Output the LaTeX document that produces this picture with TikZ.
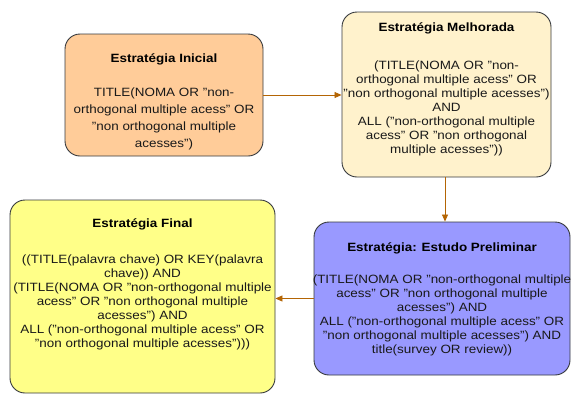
\documentclass[tikz,border=0pt]{standalone}
\usepackage{fontspec}
\setmainfont{Liberation Sans}[FakeStretch=1.12]
\usepackage{tikz}
\usetikzlibrary{arrows.meta, positioning}
\definecolor{inicial}{RGB}{255,204,153}
\definecolor{melhorada}{RGB}{255,242,204}
\definecolor{final}{RGB}{255,255,136}
\definecolor{preliminar}{RGB}{153,153,255}
\definecolor{borda}{RGB}{54,57,61}
\definecolor{seta}{RGB}{180,101,4}

\begin{document}
\begin{tikzpicture}[x=1pt, y=-1pt,
    estrategia/.style={draw=borda, line width=0.9pt, rounded corners=15pt,
        align=center, inner sep=0pt, font=\fontsize{12}{14}\selectfont,
        text=black!90},
    titulo/.style={font=\fontsize{12}{14}\selectfont\bfseries},
    fluxo/.style={draw=seta, line width=0.8pt, -{Triangle[length=7pt,width=6pt]}}]
    \useasboundingbox (0,0) rectangle (572,394);

    % caixas
    \node[estrategia, fill=inicial, minimum width=198pt, minimum height=122pt]
        (ini) at (164,95) {};
    \node[estrategia, fill=melhorada, minimum width=209pt, minimum height=165pt]
        (mel) at (446.5,94.5) {};
    \node[estrategia, fill=preliminar, minimum width=256pt, minimum height=153pt]
        (pre) at (442,298.5) {};
    \node[estrategia, fill=final, minimum width=265pt, minimum height=193pt]
        (fin) at (142.5,296.5) {};

    % titulos
    \node[titulo] (iniT) at (164,59) {Estratégia Inicial};
    \node[titulo] (melT) at (446.5,28) {Estratégia Melhorada};
    \node[titulo] (preT) at (442,248) {Estratégia: Estudo Preliminar};
    \node[titulo] (finT) at (142.5,224) {Estratégia Final};

    % textos
    \node[estrategia, draw=none, anchor=north, font=\fontsize{12}{17}\selectfont]
        (iniX) at (164,87)
        {TITLE(NOMA OR "non-\\orthogonal multiple acess" OR\\"non orthogonal multiple\\acesses")};
    \node[estrategia, draw=none, anchor=north] (melX) at (446.5,60)
        {(TITLE(NOMA OR "non-\\orthogonal multiple acess" OR\\"non orthogonal multiple acesses")\\AND\\ALL ("non-orthogonal multiple\\acess" OR "non orthogonal\\multiple acesses"))};
    \node[estrategia, draw=none, anchor=north] (preX) at (442,274)
        {(TITLE(NOMA OR "non-orthogonal multiple\\acess" OR "non orthogonal multiple\\acesses") AND\\ALL ("non-orthogonal multiple acess" OR\\"non orthogonal multiple acesses") AND\\title(survey OR review))};
    \node[estrategia, draw=none, anchor=north] (finX) at (142.5,254)
        {((TITLE(palavra chave) OR KEY(palavra\\chave)) AND\\(TITLE(NOMA OR "non-orthogonal multiple\\acess" OR "non orthogonal multiple\\acesses") AND\\ALL ("non-orthogonal multiple acess" OR\\"non orthogonal multiple acesses")))};

    % setas
    \draw[fluxo] (ini.east) -- (ini.east -| mel.west);
    \draw[fluxo] (mel.south -| 445,0) -- (pre.north -| 445,0);
    \draw[fluxo] (pre.west) -- (pre.west -| fin.east);
\end{tikzpicture}
\end{document}
